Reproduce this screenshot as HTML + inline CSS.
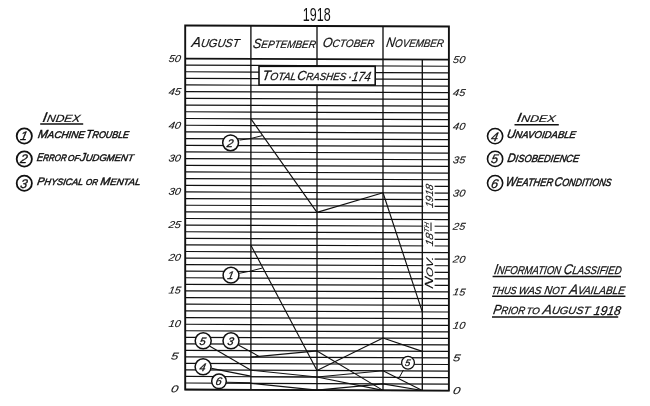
<!DOCTYPE html>
<html><head><meta charset="utf-8"><title>1918 Crashes Chart</title>
<style>
html,body{margin:0;padding:0;background:#fff;}
body{width:650px;height:406px;overflow:hidden;}
svg{display:block;}
</style></head>
<body>
<svg width="650" height="406" viewBox="0 0 650 406">
<rect x="0" y="0" width="650" height="406" fill="#fff"/>
<g transform="matrix(1 0.0042 0 1 0 -1.3314)">
<line x1="185.2" y1="390.10" x2="448.9" y2="390.10" stroke="#111" stroke-width="1.2"/>
<line x1="185.2" y1="383.56" x2="448.9" y2="383.56" stroke="#111" stroke-width="1.2"/>
<line x1="185.2" y1="377.02" x2="448.9" y2="377.02" stroke="#111" stroke-width="1.2"/>
<line x1="185.2" y1="370.48" x2="448.9" y2="370.48" stroke="#111" stroke-width="1.2"/>
<line x1="185.2" y1="363.94" x2="448.9" y2="363.94" stroke="#111" stroke-width="1.2"/>
<line x1="185.2" y1="357.40" x2="448.9" y2="357.40" stroke="#111" stroke-width="1.2"/>
<line x1="185.2" y1="350.88" x2="448.9" y2="350.88" stroke="#111" stroke-width="1.2"/>
<line x1="185.2" y1="344.36" x2="448.9" y2="344.36" stroke="#111" stroke-width="1.2"/>
<line x1="185.2" y1="337.84" x2="448.9" y2="337.84" stroke="#111" stroke-width="1.2"/>
<line x1="185.2" y1="331.32" x2="448.9" y2="331.32" stroke="#111" stroke-width="1.2"/>
<line x1="185.2" y1="324.80" x2="448.9" y2="324.80" stroke="#111" stroke-width="1.2"/>
<line x1="185.2" y1="318.12" x2="448.9" y2="318.12" stroke="#111" stroke-width="1.2"/>
<line x1="185.2" y1="311.44" x2="448.9" y2="311.44" stroke="#111" stroke-width="1.2"/>
<line x1="185.2" y1="304.76" x2="448.9" y2="304.76" stroke="#111" stroke-width="1.2"/>
<line x1="185.2" y1="298.08" x2="448.9" y2="298.08" stroke="#111" stroke-width="1.2"/>
<line x1="185.2" y1="291.40" x2="448.9" y2="291.40" stroke="#111" stroke-width="1.2"/>
<line x1="185.2" y1="284.85" x2="448.9" y2="284.85" stroke="#111" stroke-width="1.2"/>
<line x1="185.2" y1="278.30" x2="448.9" y2="278.30" stroke="#111" stroke-width="1.2"/>
<line x1="185.2" y1="271.75" x2="448.9" y2="271.75" stroke="#111" stroke-width="1.2"/>
<line x1="185.2" y1="265.20" x2="448.9" y2="265.20" stroke="#111" stroke-width="1.2"/>
<line x1="185.2" y1="258.65" x2="448.9" y2="258.65" stroke="#111" stroke-width="1.2"/>
<line x1="185.2" y1="252.06" x2="448.9" y2="252.06" stroke="#111" stroke-width="1.2"/>
<line x1="185.2" y1="245.47" x2="448.9" y2="245.47" stroke="#111" stroke-width="1.2"/>
<line x1="185.2" y1="238.88" x2="448.9" y2="238.88" stroke="#111" stroke-width="1.2"/>
<line x1="185.2" y1="232.29" x2="448.9" y2="232.29" stroke="#111" stroke-width="1.2"/>
<line x1="185.2" y1="225.70" x2="448.9" y2="225.70" stroke="#111" stroke-width="1.2"/>
<line x1="185.2" y1="219.06" x2="448.9" y2="219.06" stroke="#111" stroke-width="1.2"/>
<line x1="185.2" y1="212.42" x2="448.9" y2="212.42" stroke="#111" stroke-width="1.2"/>
<line x1="185.2" y1="205.78" x2="448.9" y2="205.78" stroke="#111" stroke-width="1.2"/>
<line x1="185.2" y1="199.14" x2="448.9" y2="199.14" stroke="#111" stroke-width="1.2"/>
<line x1="185.2" y1="192.50" x2="448.9" y2="192.50" stroke="#111" stroke-width="1.2"/>
<line x1="185.2" y1="185.84" x2="448.9" y2="185.84" stroke="#111" stroke-width="1.2"/>
<line x1="185.2" y1="179.18" x2="448.9" y2="179.18" stroke="#111" stroke-width="1.2"/>
<line x1="185.2" y1="172.52" x2="448.9" y2="172.52" stroke="#111" stroke-width="1.2"/>
<line x1="185.2" y1="165.86" x2="448.9" y2="165.86" stroke="#111" stroke-width="1.2"/>
<line x1="185.2" y1="159.20" x2="448.9" y2="159.20" stroke="#111" stroke-width="1.2"/>
<line x1="185.2" y1="152.52" x2="448.9" y2="152.52" stroke="#111" stroke-width="1.2"/>
<line x1="185.2" y1="145.84" x2="448.9" y2="145.84" stroke="#111" stroke-width="1.2"/>
<line x1="185.2" y1="139.16" x2="448.9" y2="139.16" stroke="#111" stroke-width="1.2"/>
<line x1="185.2" y1="132.48" x2="448.9" y2="132.48" stroke="#111" stroke-width="1.2"/>
<line x1="185.2" y1="125.80" x2="448.9" y2="125.80" stroke="#111" stroke-width="1.2"/>
<line x1="185.2" y1="119.06" x2="448.9" y2="119.06" stroke="#111" stroke-width="1.2"/>
<line x1="185.2" y1="112.32" x2="448.9" y2="112.32" stroke="#111" stroke-width="1.2"/>
<line x1="185.2" y1="105.58" x2="448.9" y2="105.58" stroke="#111" stroke-width="1.2"/>
<line x1="185.2" y1="98.84" x2="448.9" y2="98.84" stroke="#111" stroke-width="1.2"/>
<line x1="185.2" y1="92.10" x2="448.9" y2="92.10" stroke="#111" stroke-width="1.2"/>
<line x1="185.2" y1="85.50" x2="448.9" y2="85.50" stroke="#111" stroke-width="1.2"/>
<line x1="185.2" y1="78.90" x2="448.9" y2="78.90" stroke="#111" stroke-width="1.2"/>
<line x1="185.2" y1="72.30" x2="448.9" y2="72.30" stroke="#111" stroke-width="1.2"/>
<line x1="185.2" y1="65.70" x2="448.9" y2="65.70" stroke="#111" stroke-width="1.2"/>
<line x1="250.9" y1="26.0" x2="250.9" y2="390.1" stroke="#111" stroke-width="1.35"/>
<line x1="317.0" y1="26.0" x2="317.0" y2="390.1" stroke="#111" stroke-width="1.35"/>
<line x1="383.0" y1="26.0" x2="383.0" y2="390.1" stroke="#111" stroke-width="1.35"/>
<line x1="422.3" y1="59.1" x2="422.3" y2="390.1" stroke="#111" stroke-width="1.35"/>
<line x1="185.2" y1="59.10" x2="448.9" y2="59.10" stroke="#111" stroke-width="1.7"/>
<rect x="185.2" y="26.0" width="263.70" height="364.10" fill="none" stroke="#111" stroke-width="1.9"/>
<polyline points="250.9,119.1 317.0,212.4 383.0,192.5 422.3,311.4" fill="none" stroke="#111" stroke-width="1.15" stroke-linejoin="round"/>
<polyline points="250.9,245.5 317.0,370.5 383.0,337.8 422.3,350.9" fill="none" stroke="#111" stroke-width="1.15" stroke-linejoin="round"/>
<polyline points="250.9,357.4 317.0,350.9 383.0,390.1 422.3,390.1" fill="none" stroke="#111" stroke-width="1.15" stroke-linejoin="round"/>
<polyline points="250.9,370.5 317.0,377.0 383.0,370.5 422.3,390.1" fill="none" stroke="#111" stroke-width="1.15" stroke-linejoin="round"/>
<polyline points="250.9,377.0 317.0,377.0 383.0,390.1 422.3,390.1" fill="none" stroke="#111" stroke-width="1.15" stroke-linejoin="round"/>
<polyline points="250.9,383.6 317.0,390.1 383.0,383.6 422.3,390.1" fill="none" stroke="#111" stroke-width="1.15" stroke-linejoin="round"/>
<text transform="translate(174.30 62.70) skewX(-10)" x="0" y="0" font-family='"Liberation Sans", "DejaVu Sans", sans-serif' font-style="italic" font-size="10" fill="#111" stroke="#111" stroke-width="0.1" text-anchor="middle" textLength="12.2" lengthAdjust="spacingAndGlyphs">50</text>
<text transform="translate(174.30 95.70) skewX(-10)" x="0" y="0" font-family='"Liberation Sans", "DejaVu Sans", sans-serif' font-style="italic" font-size="10" fill="#111" stroke="#111" stroke-width="0.1" text-anchor="middle" textLength="12.2" lengthAdjust="spacingAndGlyphs">45</text>
<text transform="translate(174.30 129.40) skewX(-10)" x="0" y="0" font-family='"Liberation Sans", "DejaVu Sans", sans-serif' font-style="italic" font-size="10" fill="#111" stroke="#111" stroke-width="0.1" text-anchor="middle" textLength="12.2" lengthAdjust="spacingAndGlyphs">40</text>
<text transform="translate(174.30 162.00) skewX(-10)" x="0" y="0" font-family='"Liberation Sans", "DejaVu Sans", sans-serif' font-style="italic" font-size="10" fill="#111" stroke="#111" stroke-width="0.1" text-anchor="middle" textLength="12.2" lengthAdjust="spacingAndGlyphs">30</text>
<text transform="translate(174.30 195.30) skewX(-10)" x="0" y="0" font-family='"Liberation Sans", "DejaVu Sans", sans-serif' font-style="italic" font-size="10" fill="#111" stroke="#111" stroke-width="0.1" text-anchor="middle" textLength="12.2" lengthAdjust="spacingAndGlyphs">30</text>
<text transform="translate(174.30 228.50) skewX(-10)" x="0" y="0" font-family='"Liberation Sans", "DejaVu Sans", sans-serif' font-style="italic" font-size="10" fill="#111" stroke="#111" stroke-width="0.1" text-anchor="middle" textLength="12.2" lengthAdjust="spacingAndGlyphs">25</text>
<text transform="translate(174.30 261.45) skewX(-10)" x="0" y="0" font-family='"Liberation Sans", "DejaVu Sans", sans-serif' font-style="italic" font-size="10" fill="#111" stroke="#111" stroke-width="0.1" text-anchor="middle" textLength="12.2" lengthAdjust="spacingAndGlyphs">20</text>
<text transform="translate(174.30 294.20) skewX(-10)" x="0" y="0" font-family='"Liberation Sans", "DejaVu Sans", sans-serif' font-style="italic" font-size="10" fill="#111" stroke="#111" stroke-width="0.1" text-anchor="middle" textLength="12.2" lengthAdjust="spacingAndGlyphs">15</text>
<text transform="translate(174.30 327.60) skewX(-10)" x="0" y="0" font-family='"Liberation Sans", "DejaVu Sans", sans-serif' font-style="italic" font-size="10" fill="#111" stroke="#111" stroke-width="0.1" text-anchor="middle" textLength="12.2" lengthAdjust="spacingAndGlyphs">10</text>
<text transform="translate(174.30 360.20) skewX(-10)" x="0" y="0" font-family='"Liberation Sans", "DejaVu Sans", sans-serif' font-style="italic" font-size="10" fill="#111" stroke="#111" stroke-width="0.1" text-anchor="middle" textLength="7.4" lengthAdjust="spacingAndGlyphs">5</text>
<text transform="translate(174.30 392.90) skewX(-10)" x="0" y="0" font-family='"Liberation Sans", "DejaVu Sans", sans-serif' font-style="italic" font-size="10" fill="#111" stroke="#111" stroke-width="0.1" text-anchor="middle" textLength="7.4" lengthAdjust="spacingAndGlyphs">0</text>
<text transform="translate(452.60 393.50) skewX(-10)" x="0" y="0" font-family='"Liberation Sans", "DejaVu Sans", sans-serif' font-style="italic" font-size="10" fill="#111" stroke="#111" stroke-width="0.1" text-anchor="start" textLength="7.4" lengthAdjust="spacingAndGlyphs">0</text>
<text transform="translate(452.60 360.80) skewX(-10)" x="0" y="0" font-family='"Liberation Sans", "DejaVu Sans", sans-serif' font-style="italic" font-size="10" fill="#111" stroke="#111" stroke-width="0.1" text-anchor="start" textLength="7.4" lengthAdjust="spacingAndGlyphs">5</text>
<text transform="translate(452.60 328.20) skewX(-10)" x="0" y="0" font-family='"Liberation Sans", "DejaVu Sans", sans-serif' font-style="italic" font-size="10" fill="#111" stroke="#111" stroke-width="0.1" text-anchor="start" textLength="12.2" lengthAdjust="spacingAndGlyphs">10</text>
<text transform="translate(452.60 294.80) skewX(-10)" x="0" y="0" font-family='"Liberation Sans", "DejaVu Sans", sans-serif' font-style="italic" font-size="10" fill="#111" stroke="#111" stroke-width="0.1" text-anchor="start" textLength="12.2" lengthAdjust="spacingAndGlyphs">15</text>
<text transform="translate(452.60 262.05) skewX(-10)" x="0" y="0" font-family='"Liberation Sans", "DejaVu Sans", sans-serif' font-style="italic" font-size="10" fill="#111" stroke="#111" stroke-width="0.1" text-anchor="start" textLength="12.2" lengthAdjust="spacingAndGlyphs">20</text>
<text transform="translate(452.60 229.10) skewX(-10)" x="0" y="0" font-family='"Liberation Sans", "DejaVu Sans", sans-serif' font-style="italic" font-size="10" fill="#111" stroke="#111" stroke-width="0.1" text-anchor="start" textLength="12.2" lengthAdjust="spacingAndGlyphs">25</text>
<text transform="translate(452.60 195.90) skewX(-10)" x="0" y="0" font-family='"Liberation Sans", "DejaVu Sans", sans-serif' font-style="italic" font-size="10" fill="#111" stroke="#111" stroke-width="0.1" text-anchor="start" textLength="12.2" lengthAdjust="spacingAndGlyphs">30</text>
<text transform="translate(452.60 162.60) skewX(-10)" x="0" y="0" font-family='"Liberation Sans", "DejaVu Sans", sans-serif' font-style="italic" font-size="10" fill="#111" stroke="#111" stroke-width="0.1" text-anchor="start" textLength="12.2" lengthAdjust="spacingAndGlyphs">35</text>
<text transform="translate(452.60 129.20) skewX(-10)" x="0" y="0" font-family='"Liberation Sans", "DejaVu Sans", sans-serif' font-style="italic" font-size="10" fill="#111" stroke="#111" stroke-width="0.1" text-anchor="start" textLength="12.2" lengthAdjust="spacingAndGlyphs">40</text>
<text transform="translate(452.60 95.50) skewX(-10)" x="0" y="0" font-family='"Liberation Sans", "DejaVu Sans", sans-serif' font-style="italic" font-size="10" fill="#111" stroke="#111" stroke-width="0.1" text-anchor="start" textLength="12.2" lengthAdjust="spacingAndGlyphs">45</text>
<text transform="translate(452.60 62.50) skewX(-10)" x="0" y="0" font-family='"Liberation Sans", "DejaVu Sans", sans-serif' font-style="italic" font-size="10" fill="#111" stroke="#111" stroke-width="0.1" text-anchor="start" textLength="12.2" lengthAdjust="spacingAndGlyphs">50</text>
</g>
<polyline points="239.6,140.1 251.2,138.4 262.0,135.7" fill="none" stroke="#111" stroke-width="1.0"/>
<polyline points="239.2,273.3 250.9,271.0 262.4,268.0" fill="none" stroke="#111" stroke-width="1.0"/>
<line x1="209.9" y1="346.2" x2="250.6" y2="370.0" stroke="#111" stroke-width="1.1"/>
<line x1="238.3" y1="344.9" x2="259.0" y2="356.4" stroke="#111" stroke-width="1.1"/>
<line x1="211.4" y1="368.4" x2="250.6" y2="376.1" stroke="#111" stroke-width="1.1"/>
<line x1="226.5" y1="382.2" x2="250.6" y2="382.7" stroke="#111" stroke-width="1.1"/>
<line x1="403.4" y1="370.0" x2="399.1" y2="377.8" stroke="#111" stroke-width="1.0"/>
<rect x="259.0" y="66.3" width="116.2" height="18.7" fill="#fff" stroke="#111" stroke-width="1.6"/>
<circle cx="230.6" cy="142.8" r="7.9" fill="#fff" stroke="#111" stroke-width="1.5"/>
<text transform="translate(229.55 146.74) skewX(-11)" x="0" y="0" text-anchor="middle" font-family='"Liberation Sans", "DejaVu Sans", sans-serif' font-style="italic" font-size="11.0" fill="#111" stroke="#111" stroke-width="0.3">2</text>
<circle cx="231.0" cy="275.2" r="7.9" fill="#fff" stroke="#111" stroke-width="1.5"/>
<text transform="translate(229.95 279.14) skewX(-11)" x="0" y="0" text-anchor="middle" font-family='"Liberation Sans", "DejaVu Sans", sans-serif' font-style="italic" font-size="11.0" fill="#111" stroke="#111" stroke-width="0.3">1</text>
<circle cx="203.2" cy="340.8" r="8.0" fill="#fff" stroke="#111" stroke-width="1.5"/>
<text transform="translate(202.15 344.74) skewX(-11)" x="0" y="0" text-anchor="middle" font-family='"Liberation Sans", "DejaVu Sans", sans-serif' font-style="italic" font-size="11.0" fill="#111" stroke="#111" stroke-width="0.3">5</text>
<circle cx="231.0" cy="340.8" r="8.0" fill="#fff" stroke="#111" stroke-width="1.5"/>
<text transform="translate(229.95 344.74) skewX(-11)" x="0" y="0" text-anchor="middle" font-family='"Liberation Sans", "DejaVu Sans", sans-serif' font-style="italic" font-size="11.0" fill="#111" stroke="#111" stroke-width="0.3">3</text>
<circle cx="203.1" cy="366.8" r="8.0" fill="#fff" stroke="#111" stroke-width="1.5"/>
<text transform="translate(202.05 370.74) skewX(-11)" x="0" y="0" text-anchor="middle" font-family='"Liberation Sans", "DejaVu Sans", sans-serif' font-style="italic" font-size="11.0" fill="#111" stroke="#111" stroke-width="0.3">4</text>
<circle cx="219.0" cy="381.3" r="7.3" fill="#fff" stroke="#111" stroke-width="1.5"/>
<text transform="translate(217.95 385.24) skewX(-11)" x="0" y="0" text-anchor="middle" font-family='"Liberation Sans", "DejaVu Sans", sans-serif' font-style="italic" font-size="11.0" fill="#111" stroke="#111" stroke-width="0.3">6</text>
<circle cx="408.0" cy="362.7" r="6.4" fill="#fff" stroke="#111" stroke-width="1.3"/>
<text transform="translate(407.05 366.10) skewX(-11)" x="0" y="0" text-anchor="middle" font-family='"Liberation Sans", "DejaVu Sans", sans-serif' font-style="italic" font-size="9.5" fill="#111" stroke="#111" stroke-width="0.3">5</text>
<circle cx="24.3" cy="136.0" r="7.6" fill="#fff" stroke="#111" stroke-width="1.8"/>
<text transform="translate(23.15 140.47) skewX(-11)" x="0" y="0" text-anchor="middle" font-family='"Liberation Sans", "DejaVu Sans", sans-serif' font-style="italic" font-size="12.5" fill="#111" stroke="#111" stroke-width="0.3">1</text>
<circle cx="24.3" cy="159.0" r="7.6" fill="#fff" stroke="#111" stroke-width="1.8"/>
<text transform="translate(23.15 163.47) skewX(-11)" x="0" y="0" text-anchor="middle" font-family='"Liberation Sans", "DejaVu Sans", sans-serif' font-style="italic" font-size="12.5" fill="#111" stroke="#111" stroke-width="0.3">2</text>
<circle cx="24.3" cy="183.2" r="7.6" fill="#fff" stroke="#111" stroke-width="1.8"/>
<text transform="translate(23.15 187.67) skewX(-11)" x="0" y="0" text-anchor="middle" font-family='"Liberation Sans", "DejaVu Sans", sans-serif' font-style="italic" font-size="12.5" fill="#111" stroke="#111" stroke-width="0.3">3</text>
<circle cx="495.1" cy="136.1" r="7.6" fill="#fff" stroke="#111" stroke-width="1.6"/>
<text transform="translate(493.95 140.57) skewX(-11)" x="0" y="0" text-anchor="middle" font-family='"Liberation Sans", "DejaVu Sans", sans-serif' font-style="italic" font-size="12.5" fill="#111" stroke="#111" stroke-width="0.3">4</text>
<circle cx="495.1" cy="158.9" r="7.6" fill="#fff" stroke="#111" stroke-width="1.6"/>
<text transform="translate(493.95 163.38) skewX(-11)" x="0" y="0" text-anchor="middle" font-family='"Liberation Sans", "DejaVu Sans", sans-serif' font-style="italic" font-size="12.5" fill="#111" stroke="#111" stroke-width="0.3">5</text>
<circle cx="495.1" cy="183.1" r="7.6" fill="#fff" stroke="#111" stroke-width="1.6"/>
<text transform="translate(493.95 187.57) skewX(-11)" x="0" y="0" text-anchor="middle" font-family='"Liberation Sans", "DejaVu Sans", sans-serif' font-style="italic" font-size="12.5" fill="#111" stroke="#111" stroke-width="0.3">6</text>
<rect x="423.2" y="181.5" width="11.4" height="28.5" fill="#fff"/>
<rect x="423.2" y="220.0" width="11.4" height="28.5" fill="#fff"/>
<rect x="423.2" y="255.5" width="11.4" height="35.0" fill="#fff"/>
<text x="302.80" y="20.95" font-family='"Liberation Sans", "DejaVu Sans", sans-serif' fill="#111" textLength="27.85" lengthAdjust="spacingAndGlyphs" text-anchor="start"><tspan font-size="17.621">1918</tspan></text>
<text transform="translate(191.25 47.10) skewX(-9)" x="0" y="0" font-family='"Liberation Sans", "DejaVu Sans", sans-serif' font-style="italic" fill="#111" stroke="#111" stroke-width="0.2" textLength="47.62" lengthAdjust="spacingAndGlyphs" text-anchor="start"><tspan font-size="14.393">A</tspan><tspan font-size="11.514">UGUST</tspan></text>
<text transform="translate(252.55 47.55) skewX(-9)" x="0" y="0" font-family='"Liberation Sans", "DejaVu Sans", sans-serif' font-style="italic" fill="#111" stroke="#111" stroke-width="0.2" textLength="62.82" lengthAdjust="spacingAndGlyphs" text-anchor="start"><tspan font-size="13.339">S</tspan><tspan font-size="10.671">EPTEMBER</tspan></text>
<text transform="translate(322.35 47.45) skewX(-9)" x="0" y="0" font-family='"Liberation Sans", "DejaVu Sans", sans-serif' font-style="italic" fill="#111" stroke="#111" stroke-width="0.2" textLength="51.47" lengthAdjust="spacingAndGlyphs" text-anchor="start"><tspan font-size="13.339">O</tspan><tspan font-size="10.671">CTOBER</tspan></text>
<text transform="translate(385.80 47.45) skewX(-9)" x="0" y="0" font-family='"Liberation Sans", "DejaVu Sans", sans-serif' font-style="italic" fill="#111" stroke="#111" stroke-width="0.2" textLength="57.48" lengthAdjust="spacingAndGlyphs" text-anchor="start"><tspan font-size="13.717">N</tspan><tspan font-size="10.974">OVEMBER</tspan></text>
<text transform="translate(42.05 121.55) skewX(-9)" x="0" y="0" font-family='"Liberation Sans", "DejaVu Sans", sans-serif' font-style="italic" fill="#111" stroke="#111" stroke-width="0.2" textLength="37.78" lengthAdjust="spacingAndGlyphs" text-anchor="start"><tspan font-size="14.243">I</tspan><tspan font-size="10.55">NDEX</tspan></text>
<text transform="translate(516.20 122.10) skewX(-9)" x="0" y="0" font-family='"Liberation Sans", "DejaVu Sans", sans-serif' font-style="italic" fill="#111" stroke="#111" stroke-width="0.2" textLength="38.77" lengthAdjust="spacingAndGlyphs" text-anchor="start"><tspan font-size="13.231">I</tspan><tspan font-size="9.801">NDEX</tspan></text>
<text transform="translate(37.55 138.30) skewX(-9)" x="0" y="0" font-family='"Liberation Sans", "DejaVu Sans", sans-serif' font-style="italic" fill="#111" stroke="#111" stroke-width="0.45" textLength="46.82" lengthAdjust="spacingAndGlyphs" text-anchor="start"><tspan font-size="11.623">M</tspan><tspan font-size="9.686">ACHINE</tspan></text>
<text transform="translate(85.45 138.30) skewX(-9)" x="0" y="0" font-family='"Liberation Sans", "DejaVu Sans", sans-serif' font-style="italic" fill="#111" stroke="#111" stroke-width="0.45" textLength="43.07" lengthAdjust="spacingAndGlyphs" text-anchor="start"><tspan font-size="11.623">T</tspan><tspan font-size="9.686">ROUBLE</tspan></text>
<text transform="translate(36.50 161.25) skewX(-9)" x="0" y="0" font-family='"Liberation Sans", "DejaVu Sans", sans-serif' font-style="italic" fill="#111" stroke="#111" stroke-width="0.45" textLength="29.67" lengthAdjust="spacingAndGlyphs" text-anchor="start"><tspan font-size="11.312">E</tspan><tspan font-size="9.427">RROR</tspan></text>
<text transform="translate(67.50 161.25) skewX(-9)" x="0" y="0" font-family='"Liberation Sans", "DejaVu Sans", sans-serif' font-style="italic" fill="#111" stroke="#111" stroke-width="0.45" textLength="11.43" lengthAdjust="spacingAndGlyphs" text-anchor="start"><tspan font-size="8.46">OF</tspan></text>
<text transform="translate(79.50 161.25) skewX(-9)" x="0" y="0" font-family='"Liberation Sans", "DejaVu Sans", sans-serif' font-style="italic" fill="#111" stroke="#111" stroke-width="0.45" textLength="53.77" lengthAdjust="spacingAndGlyphs" text-anchor="start"><tspan font-size="11.575">J</tspan><tspan font-size="9.646">UDGMENT</tspan></text>
<text transform="translate(36.85 185.40) skewX(-9)" x="0" y="0" font-family='"Liberation Sans", "DejaVu Sans", sans-serif' font-style="italic" fill="#111" stroke="#111" stroke-width="0.45" textLength="46.05" lengthAdjust="spacingAndGlyphs" text-anchor="start"><tspan font-size="11.102">P</tspan><tspan font-size="9.252">HYSICAL</tspan></text>
<text transform="translate(85.50 185.25) skewX(-9)" x="0" y="0" font-family='"Liberation Sans", "DejaVu Sans", sans-serif' font-style="italic" fill="#111" stroke="#111" stroke-width="0.45" textLength="12.01" lengthAdjust="spacingAndGlyphs" text-anchor="start"><tspan font-size="8.46">OR</tspan></text>
<text transform="translate(100.05 185.40) skewX(-9)" x="0" y="0" font-family='"Liberation Sans", "DejaVu Sans", sans-serif' font-style="italic" fill="#111" stroke="#111" stroke-width="0.45" textLength="40.02" lengthAdjust="spacingAndGlyphs" text-anchor="start"><tspan font-size="11.102">M</tspan><tspan font-size="9.252">ENTAL</tspan></text>
<text transform="translate(506.50 138.45) skewX(-9)" x="0" y="0" font-family='"Liberation Sans", "DejaVu Sans", sans-serif' font-style="italic" fill="#111" stroke="#111" stroke-width="0.45" textLength="69.00" lengthAdjust="spacingAndGlyphs" text-anchor="start"><tspan font-size="11.981">U</tspan><tspan font-size="9.984">NAVOIDABLE</tspan></text>
<text transform="translate(507.00 161.60) skewX(-9)" x="0" y="0" font-family='"Liberation Sans", "DejaVu Sans", sans-serif' font-style="italic" fill="#111" stroke="#111" stroke-width="0.45" textLength="71.83" lengthAdjust="spacingAndGlyphs" text-anchor="start"><tspan font-size="12.343">D</tspan><tspan font-size="10.286">ISOBEDIENCE</tspan></text>
<text transform="translate(505.20 186.25) skewX(-9)" x="0" y="0" font-family='"Liberation Sans", "DejaVu Sans", sans-serif' font-style="italic" fill="#111" stroke="#111" stroke-width="0.45" textLength="47.45" lengthAdjust="spacingAndGlyphs" text-anchor="start"><tspan font-size="13.058">W</tspan><tspan font-size="10.882">EATHER</tspan></text>
<text transform="translate(553.95 186.25) skewX(-9)" x="0" y="0" font-family='"Liberation Sans", "DejaVu Sans", sans-serif' font-style="italic" fill="#111" stroke="#111" stroke-width="0.45" textLength="57.07" lengthAdjust="spacingAndGlyphs" text-anchor="start"><tspan font-size="12.551">C</tspan><tspan font-size="10.46">ONDITIONS</tspan></text>
<text transform="translate(493.65 274.25) skewX(-9)" x="0" y="0" font-family='"Liberation Sans", "DejaVu Sans", sans-serif' font-style="italic" fill="#111" stroke="#111" stroke-width="0.25" textLength="66.84" lengthAdjust="spacingAndGlyphs" text-anchor="start"><tspan font-size="14.393">I</tspan><tspan font-size="11.404">NFORMATION</tspan></text>
<text transform="translate(563.20 274.25) skewX(-9)" x="0" y="0" font-family='"Liberation Sans", "DejaVu Sans", sans-serif' font-style="italic" fill="#111" stroke="#111" stroke-width="0.25" textLength="57.88" lengthAdjust="spacingAndGlyphs" text-anchor="start"><tspan font-size="14.042">C</tspan><tspan font-size="11.126">LASSIFIED</tspan></text>
<text transform="translate(491.25 294.20) skewX(-9)" x="0" y="0" font-family='"Liberation Sans", "DejaVu Sans", sans-serif' font-style="italic" fill="#111" stroke="#111" stroke-width="0.25" textLength="24.90" lengthAdjust="spacingAndGlyphs" text-anchor="start"><tspan font-size="10.352">THUS</tspan></text>
<text transform="translate(518.35 294.20) skewX(-9)" x="0" y="0" font-family='"Liberation Sans", "DejaVu Sans", sans-serif' font-style="italic" fill="#111" stroke="#111" stroke-width="0.25" textLength="22.71" lengthAdjust="spacingAndGlyphs" text-anchor="start"><tspan font-size="10.352">WAS</tspan></text>
<text transform="translate(543.95 294.10) skewX(-9)" x="0" y="0" font-family='"Liberation Sans", "DejaVu Sans", sans-serif' font-style="italic" fill="#111" stroke="#111" stroke-width="0.25" textLength="20.97" lengthAdjust="spacingAndGlyphs" text-anchor="start"><tspan font-size="11.486">N</tspan><tspan font-size="10.288">OT</tspan></text>
<text transform="translate(568.95 294.35) skewX(-9)" x="0" y="0" font-family='"Liberation Sans", "DejaVu Sans", sans-serif' font-style="italic" fill="#111" stroke="#111" stroke-width="0.25" textLength="55.62" lengthAdjust="spacingAndGlyphs" text-anchor="start"><tspan font-size="13.675">A</tspan><tspan font-size="10.834">VAILABLE</tspan></text>
<text transform="translate(492.75 314.40) skewX(-9)" x="0" y="0" font-family='"Liberation Sans", "DejaVu Sans", sans-serif' font-style="italic" fill="#111" stroke="#111" stroke-width="0.25" textLength="31.84" lengthAdjust="spacingAndGlyphs" text-anchor="start"><tspan font-size="13.17">P</tspan><tspan font-size="10.434">RIOR</tspan></text>
<text transform="translate(525.90 314.40) skewX(-9)" x="0" y="0" font-family='"Liberation Sans", "DejaVu Sans", sans-serif' font-style="italic" fill="#111" stroke="#111" stroke-width="0.25" textLength="13.26" lengthAdjust="spacingAndGlyphs" text-anchor="start"><tspan font-size="9.279">TO</tspan></text>
<text transform="translate(542.25 314.40) skewX(-9)" x="0" y="0" font-family='"Liberation Sans", "DejaVu Sans", sans-serif' font-style="italic" fill="#111" stroke="#111" stroke-width="0.25" textLength="47.31" lengthAdjust="spacingAndGlyphs" text-anchor="start"><tspan font-size="13.255">A</tspan><tspan font-size="10.502">UGUST</tspan></text>
<text transform="translate(593.25 314.60) skewX(-9)" x="0" y="0" font-family='"Liberation Sans", "DejaVu Sans", sans-serif' font-style="italic" fill="#111" stroke="#111" stroke-width="0.25" textLength="27.03" lengthAdjust="spacingAndGlyphs" text-anchor="start"><tspan font-size="12.823">1918</tspan></text>
<text transform="translate(261.80 80.40) skewX(-9)" x="0" y="0" font-family='"Liberation Sans", "DejaVu Sans", sans-serif' font-style="italic" fill="#111" stroke="#111" stroke-width="0.25" textLength="33.90" lengthAdjust="spacingAndGlyphs" text-anchor="start"><tspan font-size="13.464">T</tspan><tspan font-size="10.519">OTAL</tspan></text>
<text transform="translate(296.85 80.40) skewX(-9)" x="0" y="0" font-family='"Liberation Sans", "DejaVu Sans", sans-serif' font-style="italic" fill="#111" stroke="#111" stroke-width="0.25" textLength="48.79" lengthAdjust="spacingAndGlyphs" text-anchor="start"><tspan font-size="13.136">C</tspan><tspan font-size="10.262">RASHES</tspan></text>
<text transform="translate(347.60 80.55) skewX(-9)" x="0" y="0" font-family='"Liberation Sans", "DejaVu Sans", sans-serif' font-style="italic" fill="#111" stroke="#111" stroke-width="0.25" textLength="22.67" lengthAdjust="spacingAndGlyphs" text-anchor="start"><tspan font-size="13.438">·</tspan><tspan font-size="13.231">174</tspan></text>
<text transform="translate(432.75 289.15) rotate(-90) skewX(-13)" x="0" y="0" font-family='"Liberation Sans", "DejaVu Sans", sans-serif' font-style="italic" fill="#111" stroke="#111" stroke-width="0.1" textLength="32.17" lengthAdjust="spacingAndGlyphs" text-anchor="start"><tspan font-size="11.87">N</tspan><tspan font-size="9.496">OV.</tspan></text>
<text transform="translate(432.75 246.85) rotate(-90) skewX(-13)" x="0" y="0" font-family='"Liberation Sans", "DejaVu Sans", sans-serif' font-style="italic" fill="#111" stroke="#111" stroke-width="0.1" textLength="23.25" lengthAdjust="spacingAndGlyphs" text-anchor="start"><tspan font-size="10.399">18</tspan><tspan font-size="6.655" dy="-3.5">TH</tspan></text>
<text transform="translate(432.65 208.25) rotate(-90) skewX(-13)" x="0" y="0" font-family='"Liberation Sans", "DejaVu Sans", sans-serif' font-style="italic" fill="#111" stroke="#111" stroke-width="0.1" textLength="23.36" lengthAdjust="spacingAndGlyphs" text-anchor="start"><tspan font-size="10.446">1918</tspan></text>
<line x1="40.2" y1="124.1" x2="83.2" y2="124.1" stroke="#111" stroke-width="1.5"/>
<line x1="431.0" y1="222.5" x2="431.0" y2="231.0" stroke="#111" stroke-width="1.0"/>
<line x1="514.5" y1="124.7" x2="558.8" y2="124.7" stroke="#111" stroke-width="1.5"/>
<line x1="492.6" y1="276.6" x2="620.9" y2="276.6" stroke="#111" stroke-width="1.5"/>
<line x1="492.1" y1="296.2" x2="625.4" y2="296.2" stroke="#111" stroke-width="1.5"/>
<line x1="492.0" y1="317.1" x2="618.2" y2="317.1" stroke="#111" stroke-width="1.5"/>
</svg>
</body></html>
